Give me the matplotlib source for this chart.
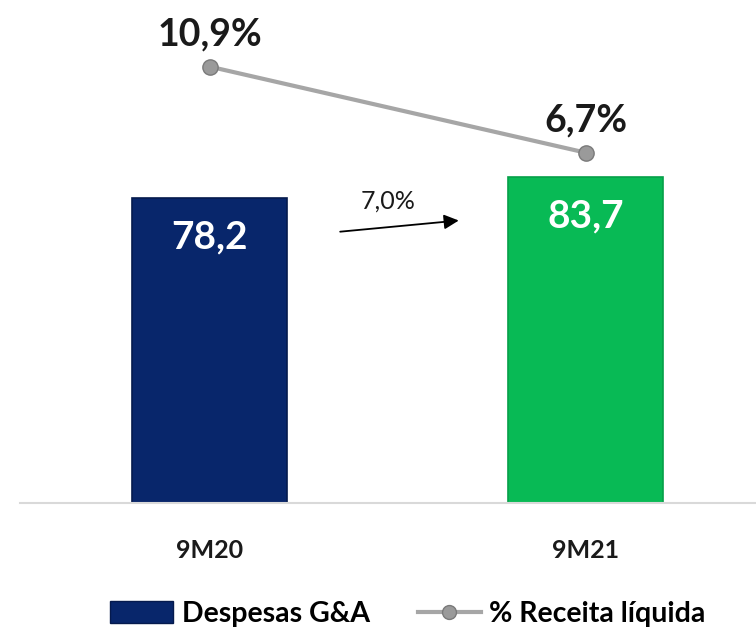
import numpy as np
import matplotlib
matplotlib.use("Agg")
import matplotlib.pyplot as plt
from matplotlib.patches import Patch
from matplotlib.lines import Line2D

# data
periods = ["9M20", "9M21"]
despesas = [78.2, 83.7]
receita_pct = [10.9, 6.7]
growth_label = "7,0%"

BLUE = "#08266B"
GREEN = "#08BA55"
GRAY = "#A6A6A6"

plt.rcParams['font.family'] = ['Lato', 'DejaVu Sans']

def fmt(v):
    return ("%.1f" % v).replace(".", ",")

fig = plt.figure(figsize=(7.56, 6.3), dpi=100)
ax = fig.add_axes([20 / 756, 1 - 503 / 630, 736 / 756, 503 / 630])
ax2 = ax.twinx()

xs = np.arange(len(periods))
bars = ax.bar(xs, despesas, width=155 / 376, color=[BLUE, GREEN],
              edgecolor=["#051a4d", "#06a049"], linewidth=1.2, zorder=2)

ax.set_xlim(-0.504, 1.453)
ax.set_ylim(0, 503 / 3.9)
ax2.set_ylim(-10.4, 14.15)

for x, v in zip(xs, despesas):
    ax.text(x, v - 10, fmt(v), ha="center", va="center", color="white",
            fontsize=28, fontweight="bold", zorder=3)

ax2.plot(xs, receita_pct, color=GRAY, lw=3, marker="o", markersize=11,
         markerfacecolor="#9a9a9a", markeredgecolor="#7a7a7a", zorder=4)
for x, v in zip(xs, receita_pct):
    ax2.text(x, v + 1.55, fmt(v) + "%", ha="center", va="center",
             color="#1a1a1a", fontsize=27, fontweight="bold")

# growth arrow between the bars
ax.annotate("", xy=(0.67, 72.5), xytext=(0.34, 69.5),
            arrowprops=dict(arrowstyle="-|>", color="black", lw=1.3,
                            mutation_scale=22))
ax.text(0.475, 77.5, growth_label, ha="center", va="center", fontsize=18,
        color="#1a1a1a")

for a in (ax, ax2):
    for s in a.spines.values():
        s.set_visible(False)
    a.set_yticks([])
ax.spines["bottom"].set_visible(True)
ax.spines["bottom"].set_color("#D9D9D9")
ax.spines["bottom"].set_linewidth(1.5)
ax.set_xticks(xs)
ax.set_xticklabels(periods)
for lbl in ax.get_xticklabels():
    lbl.set_fontsize(18)
    lbl.set_fontweight("bold")
    lbl.set_color("#1a1a1a")
ax.tick_params(axis="x", length=0, pad=26)

handles = [Patch(facecolor=BLUE, edgecolor="#051a4d"),
           Line2D([0], [0], color=GRAY, lw=3, marker="o", markersize=10,
                  markerfacecolor="#9a9a9a", markeredgecolor="#7a7a7a")]
fig.legend(handles, ["Despesas G&A", "% Receita líquida"], loc="center",
           bbox_to_anchor=(408 / 756, 1 - 614 / 630), ncol=2, frameon=False,
           handlelength=2.2, handleheight=0.8, columnspacing=1.7,
           handletextpad=0.3, prop={"weight": "bold", "size": 20.5})

fig.savefig("out.png", dpi=100)
